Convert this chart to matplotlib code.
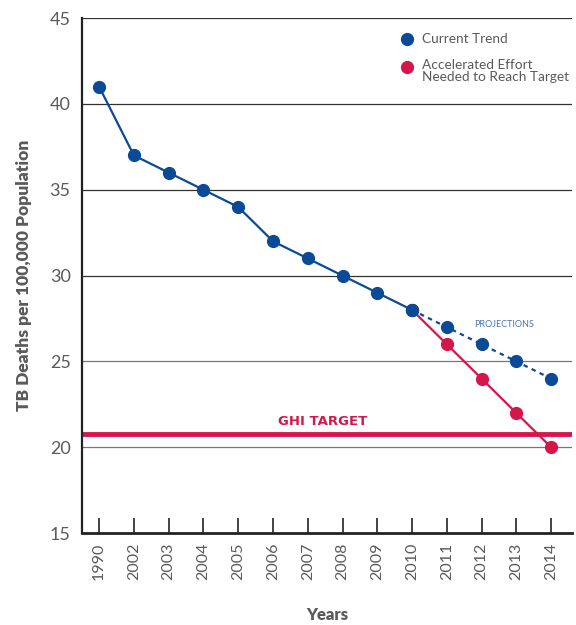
import matplotlib.pyplot as plt

years = ['1990', '2002', '2003', '2004', '2005', '2006', '2007',
         '2008', '2009', '2010', '2011', '2012', '2013', '2014']
trend_actual = [41, 37, 36, 35, 34, 32, 31, 30, 29, 28]
trend_proj = [28, 27, 26, 25, 24]
accelerated = [28, 26, 24, 22, 20]
ghi_target = 20.8

blue = '#0b4a97'
red = '#d5164b'
grey = '#5a5a5a'

plt.rcParams['font.family'] = ['Lato', 'DejaVu Sans']

fig = plt.figure(figsize=(5.76, 6.25), dpi=100)
ax = fig.add_axes([0.142, 0.147, 0.851, 0.824])

x_all = list(range(len(years)))
x_act = x_all[:len(trend_actual)]
x_proj = x_all[len(trend_actual) - 1:]

for yv in [20, 25, 30, 35, 40, 45]:
    ax.axhline(yv, color='#333333' if yv > 25 else '#777777', lw=0.9, zorder=1)

ax.axhline(ghi_target, color=red, lw=3.5, zorder=2)
ax.text(6.44, ghi_target + 0.3, 'GHI TARGET', color=red, fontsize=9.5,
        fontweight='bold', family='DejaVu Sans', ha='center', va='bottom')

ax.plot(x_proj, accelerated, color=red, lw=1.6, marker='o', ms=8.5, zorder=3)
ax.plot(x_proj, trend_proj, color=blue, lw=1.6, ls=(0, (2, 2)), marker='o', ms=8.5, zorder=4)
ax.plot(x_act, trend_actual, color=blue, lw=1.6, marker='o', ms=8.5, zorder=4)

ax.text(11.64, 27.15, 'PROJECTIONS', color='#4a74b4', fontsize=6.5, ha='center', va='center')

# legend
ax.plot(8.85, 43.78, 'o', color=blue, ms=8.5, clip_on=False)
ax.text(9.28, 43.78, 'Current Trend', color=grey, fontsize=9.8, va='center')
ax.plot(8.85, 42.15, 'o', color=red, ms=8.5, clip_on=False)
ax.text(9.28, 42.62, 'Accelerated Effort\nNeeded to Reach Target', color=grey,
        fontsize=9.8, va='top', linespacing=1.05)

ax.set_xlim(-0.5, 13.6)
ax.set_ylim(15, 45)
ax.set_xticks(x_all)
ax.set_xticklabels(years, rotation=90, fontsize=11.5, color=grey)
ax.set_yticks([15, 20, 25, 30, 35, 40, 45])
ax.tick_params(axis='y', length=0, labelsize=13, labelcolor=grey, pad=8)
ax.tick_params(axis='x', direction='in', length=11, width=1.2, color='#222222', pad=7)

for s in ['top', 'right']:
    ax.spines[s].set_visible(False)
ax.spines['left'].set_linewidth(1.6)
ax.spines['bottom'].set_linewidth(2.0)
ax.spines['left'].set_color('#222222')
ax.spines['bottom'].set_color('#222222')

ax.set_ylabel('TB Deaths per 100,000 Population', fontsize=12.5, fontweight='heavy',
              color=grey, labelpad=13)
ax.set_xlabel('Years', fontsize=12, fontweight='heavy', color=grey, labelpad=19)

fig.savefig('out.png', dpi=100)
